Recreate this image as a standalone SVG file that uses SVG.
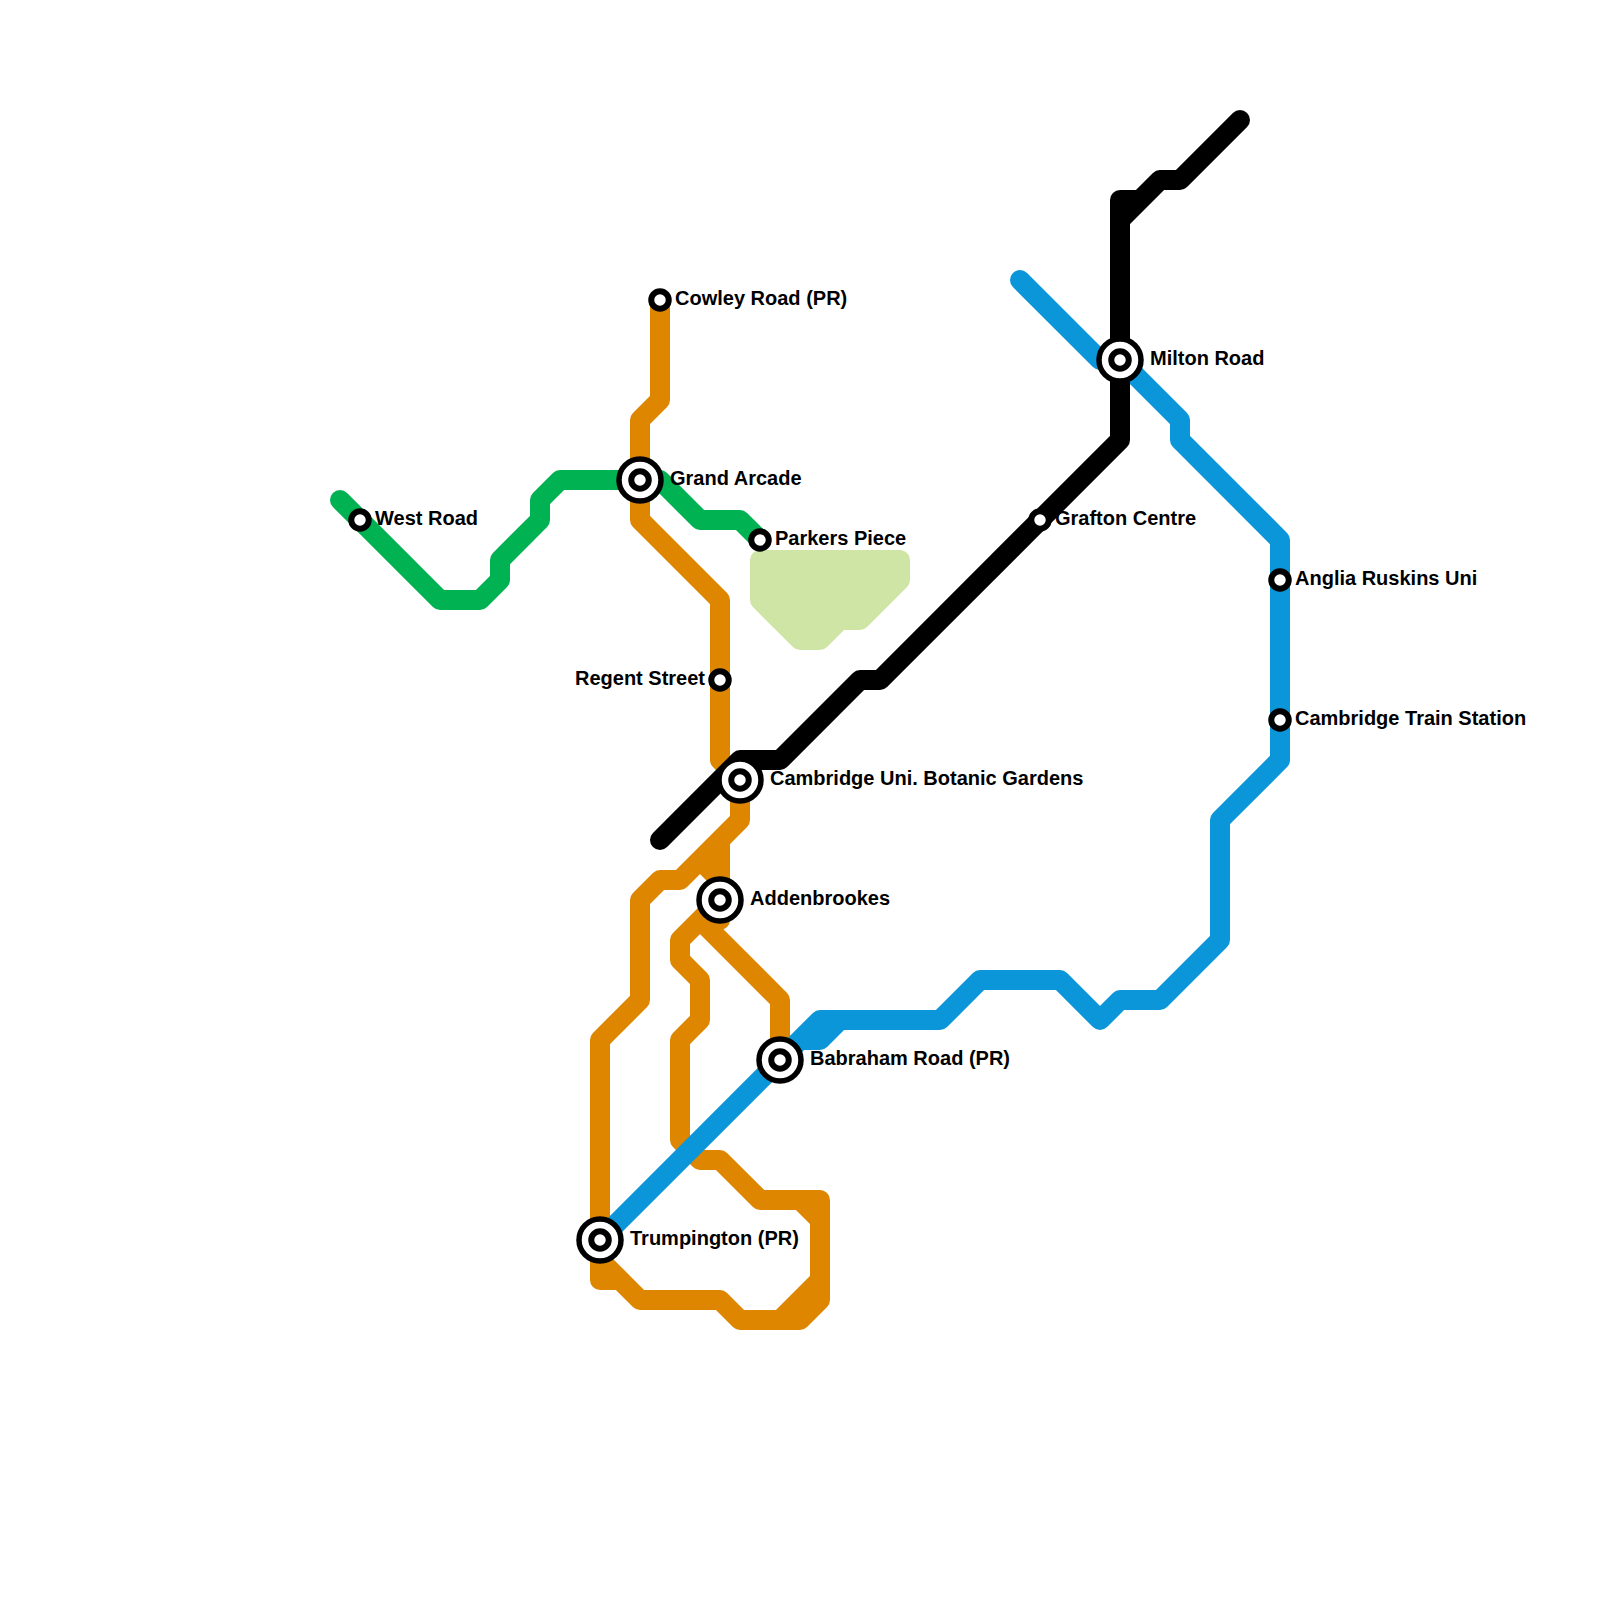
<svg xmlns="http://www.w3.org/2000/svg" width="1600" height="1600" viewBox="0 0 1600 1600">
<style>
.l{fill:none;stroke-width:20;stroke-linejoin:round;stroke-linecap:round}
.green{stroke:#00b251}.orange{stroke:#de8600}.blue{stroke:#0a96d8}.black{stroke:#000}
.o{fill:#fff;stroke:#000}
.big{stroke-width:5.5}.mid{stroke-width:6}.small{stroke-width:6}
text{font-family:"Liberation Sans",Arial,sans-serif;font-weight:bold;font-size:20px;fill:#000}
</style>
<defs>
<g id="interchange"><circle r="21" class="o big"/><circle r="8.75" class="o mid"/></g>
<circle id="stop" r="8.75" class="o small"/>
</defs>
<polygon id="park" points="760,560 900,560 900,580 860,620 840,620 820,640 800,640 760,600" fill="#cfe5a6" stroke="#cfe5a6" stroke-width="20" stroke-linejoin="round"/>
<g id="connectors">
<path class="l green" d="M340,500L440,600H480L500,580V560L540,520V500L560,480H640H660L700,520H740L760,540"/>
<path class="l orange" d="M660,300V400L640,420V520L720,600V760L740,780V820L680,880H660L640,900V1000L600,1040V1280H620L600,1260L640,1300H720L740,1320H800L820,1300V1200H760L720,1160H700L680,1140V1040L700,1020V980L680,960V940L720,900L700,920L780,1000V1060M720,840V920M700,860L720,880M780,1320L820,1280M800,1200L820,1220"/>
<path class="l blue" d="M600,1240L820,1020H940L980,980H1060L1100,1020L1120,1000H1160L1220,940V820L1280,760V540L1180,440V420L1120,360H1100L1020,280M800,1040H820L840,1020"/>
<path class="l black" d="M660,840L740,760H780L860,680H880L1120,440V200H1140L1160,180H1180L1240,120M1120,220L1160,180"/>
</g>
<g id="west-road"><use href="#stop" x="360" y="520"/><text x="375" y="525">West Road</text></g>
<g id="cowley-road"><use href="#stop" x="660" y="300"/><text x="675" y="305">Cowley Road (PR)</text></g>
<g id="grand-arcade"><use href="#interchange" x="640" y="480"/><text x="670" y="485">Grand Arcade</text></g>
<g id="parkers-piece"><use href="#stop" x="760" y="540"/><text x="775" y="545">Parkers Piece</text></g>
<g id="regent-street"><use href="#stop" x="720" y="680"/><text x="705" y="685" text-anchor="end">Regent Street</text></g>
<g id="botanic-gardens"><use href="#interchange" x="740" y="780"/><text x="770" y="785">Cambridge Uni. Botanic Gardens</text></g>
<g id="addenbrookes"><use href="#interchange" x="720" y="900"/><text x="750" y="905">Addenbrookes</text></g>
<g id="babraham-road"><use href="#interchange" x="780" y="1060"/><text x="810" y="1065">Babraham Road (PR)</text></g>
<g id="trumpington"><use href="#interchange" x="600" y="1240"/><text x="630" y="1245">Trumpington (PR)</text></g>
<g id="milton-road"><use href="#interchange" x="1120" y="360"/><text x="1150" y="365">Milton Road</text></g>
<g id="grafton-centre"><use href="#stop" x="1040" y="520"/><text x="1055" y="525">Grafton Centre</text></g>
<g id="anglia-ruskins"><use href="#stop" x="1280" y="580"/><text x="1295" y="585">Anglia Ruskins Uni</text></g>
<g id="train-station"><use href="#stop" x="1280" y="720"/><text x="1295" y="725">Cambridge Train Station</text></g>
</svg>
